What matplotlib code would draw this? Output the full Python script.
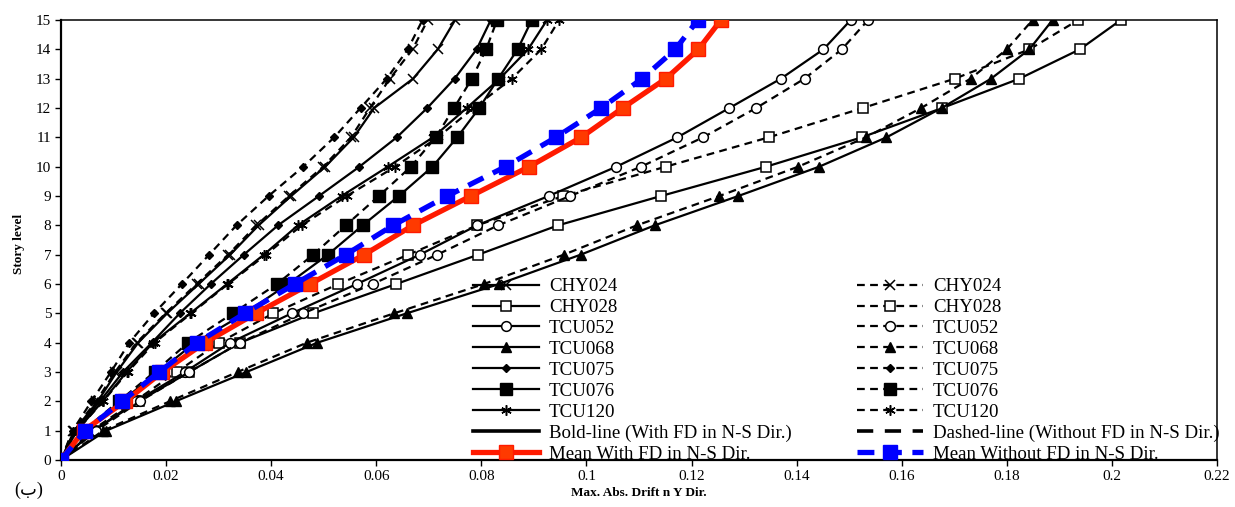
import matplotlib
matplotlib.use("Agg")
import matplotlib.pyplot as plt
from matplotlib.lines import Line2D

# ---------------- data ----------------
stories = list(range(16))

chy024_with = [0, 0.0025, 0.0070, 0.0106, 0.0147, 0.0202, 0.0262, 0.0322, 0.0376, 0.0438, 0.0503, 0.0557, 0.0596, 0.0670, 0.0717, 0.0750]
chy024_without = [0, 0.0023, 0.0067, 0.0103, 0.0144, 0.0199, 0.0258, 0.0318, 0.0372, 0.0434, 0.0499, 0.0552, 0.0588, 0.0626, 0.0669, 0.0698]

chy028_with = [0, 0.0062, 0.0148, 0.0244, 0.0341, 0.0480, 0.0638, 0.0794, 0.0946, 0.1142, 0.1342, 0.1524, 0.1677, 0.1824, 0.1939, 0.2017]
chy028_without = [0, 0.0058, 0.0140, 0.0220, 0.0301, 0.0404, 0.0528, 0.0661, 0.0792, 0.0956, 0.1151, 0.1347, 0.1526, 0.1701, 0.1843, 0.1936]

tcu052_with = [0, 0.0063, 0.0143, 0.0236, 0.0322, 0.0439, 0.0563, 0.0683, 0.0792, 0.0928, 0.1057, 0.1173, 0.1272, 0.1370, 0.1451, 0.1503]
tcu052_without = [0, 0.0067, 0.0150, 0.0244, 0.0341, 0.0461, 0.0593, 0.0716, 0.0832, 0.0969, 0.1104, 0.1222, 0.1323, 0.1415, 0.1486, 0.1536]

tcu068_with = [0, 0.0086, 0.0218, 0.0353, 0.0488, 0.0658, 0.0834, 0.0989, 0.1130, 0.1289, 0.1443, 0.1571, 0.1676, 0.1770, 0.1843, 0.1887]
tcu068_without = [0, 0.0080, 0.0207, 0.0336, 0.0468, 0.0634, 0.0805, 0.0957, 0.1096, 0.1253, 0.1403, 0.1532, 0.1637, 0.1731, 0.1800, 0.1849]

tcu075_with = [0, 0.0027, 0.0074, 0.0118, 0.0173, 0.0226, 0.0285, 0.0348, 0.0413, 0.0491, 0.0568, 0.0639, 0.0697, 0.0749, 0.0791, 0.0818]
tcu075_without = [0, 0.0022, 0.0058, 0.0095, 0.0130, 0.0177, 0.0230, 0.0282, 0.0334, 0.0395, 0.0461, 0.0520, 0.0570, 0.0620, 0.0660, 0.0688]

tcu076_with = [0, 0.0044, 0.0115, 0.0185, 0.0255, 0.0350, 0.0432, 0.0508, 0.0574, 0.0643, 0.0707, 0.0754, 0.0796, 0.0832, 0.0869, 0.0896]
tcu076_without = [0, 0.0042, 0.0110, 0.0178, 0.0242, 0.0327, 0.0411, 0.0480, 0.0542, 0.0605, 0.0666, 0.0713, 0.0748, 0.0782, 0.0809, 0.0830]

tcu120_with = [0, 0.0030, 0.0079, 0.0125, 0.0175, 0.0246, 0.0316, 0.0386, 0.0451, 0.0534, 0.0622, 0.0708, 0.0772, 0.0835, 0.0889, 0.0925]
tcu120_without = [0, 0.0030, 0.0080, 0.0127, 0.0178, 0.0248, 0.0318, 0.0390, 0.0458, 0.0544, 0.0636, 0.0717, 0.0785, 0.0858, 0.0914, 0.0948]

mean_with = [0, 0.0043, 0.0122, 0.0193, 0.0274, 0.0371, 0.0474, 0.0577, 0.0670, 0.0780, 0.0891, 0.0990, 0.1069, 0.1151, 0.1213, 0.1256]
mean_without = [0, 0.0046, 0.0116, 0.0187, 0.0259, 0.0350, 0.0445, 0.0542, 0.0632, 0.0735, 0.0846, 0.0942, 0.1028, 0.1106, 0.1169, 0.1212]

names = ["CHY024", "CHY028", "TCU052", "TCU068", "TCU075", "TCU076", "TCU120"]
with_series = [chy024_with, chy028_with, tcu052_with, tcu068_with, tcu075_with, tcu076_with, tcu120_with]
without_series = [chy024_without, chy028_without, tcu052_without, tcu068_without, tcu075_without, tcu076_without, tcu120_without]

x_ticks = [0, 0.02, 0.04, 0.06, 0.08, 0.1, 0.12, 0.14, 0.16, 0.18, 0.2, 0.22]
x_tick_labels = ["0", "0.02", "0.04", "0.06", "0.08", "0.1", "0.12", "0.14", "0.16", "0.18", "0.2", "0.22"]

# ---------------- style ----------------
SERIF = "Liberation Serif"
plt.rcParams["font.family"] = [SERIF, "DejaVu Sans"]

marker_styles = [
    dict(marker="x", ms=6.5, mfc="black", mec="black", mew=1.1),
    dict(marker="s", ms=7, mfc="white", mec="black", mew=1.1),
    dict(marker="o", ms=7, mfc="white", mec="black", mew=1.1),
    dict(marker="^", ms=7.5, mfc="black", mec="black", mew=1.0),
    dict(marker="D", ms=4.5, mfc="black", mec="black", mew=1.0),
    dict(marker="s", ms=8, mfc="black", mec="black", mew=1.0),
    dict(marker=(6, 2, 0), ms=7.5, mfc="black", mec="black", mew=1.1),
]

fig = plt.figure(figsize=(12.35, 5.07), dpi=100)
ax = fig.add_axes([61 / 1235, 47 / 507, (1217 - 61) / 1235, (460 - 20) / 507])

LW = 1.6
DASH = (3.5, 2.4)
RED_LINE = "#FF1A00"
RED_FILL = "#FF3A00"
BLUE = "#0000FF"

for name, s_with, s_wo, ms in zip(names, with_series, without_series, marker_styles):
    ax.plot(s_with, stories, color="black", lw=LW, ls="-", zorder=2, **ms)
    ax.plot(s_wo, stories, color="black", lw=LW, ls=(0, DASH), zorder=2, **ms)

ax.plot(mean_with, stories, color=RED_LINE, lw=3.8, marker="s", ms=9.5,
        mfc=RED_FILL, mec=RED_LINE, mew=1.0, zorder=4)
ax.plot(mean_without, stories, color=BLUE, lw=3.8, ls=(0, (3.2, 2.0)), marker="s",
        ms=9.5, mfc=BLUE, mec=BLUE, mew=1.0, zorder=5)

ax.set_xlim(0, 0.22)
ax.set_ylim(0, 15)
ax.set_xticks(x_ticks)
ax.set_xticklabels(x_tick_labels)
ax.set_yticks(stories)
ax.tick_params(axis="both", direction="out", length=4, width=1, labelsize=11, pad=3)
for lab in ax.get_xticklabels() + ax.get_yticklabels():
    lab.set_fontfamily(SERIF)

for side in ["left", "bottom"]:
    ax.spines[side].set_linewidth(1.6)
for side in ["top", "right"]:
    ax.spines[side].set_linewidth(1.1)

ax.set_xlabel("Max. Abs. Drift n Y Dir.", fontsize=9.5, fontweight="bold", fontfamily=SERIF, labelpad=3)
ax.set_ylabel("Story level", fontsize=9.5, fontweight="bold", fontfamily=SERIF, labelpad=8)
ax.yaxis.label.set_y(0.49)

fig.text(14 / 1235, 1 - 490 / 507, "(ب)", fontsize=13, family=[SERIF, "DejaVu Sans"], ha="left", va="center")

# ---------------- legends ----------------
def mk(ls, ms):
    return Line2D([], [], color="black", lw=LW, ls=ls, **ms)

left_handles = [mk("-", m) for m in marker_styles]
left_handles.append(Line2D([], [], color="black", lw=2.6, ls="-"))
left_handles.append(Line2D([], [], color=RED_LINE, lw=3.8, marker="s", ms=9.5, mfc=RED_FILL, mec=RED_LINE))
left_labels = names + ["Bold-line (With FD in N-S Dir.)", "Mean With FD in N-S Dir."]

right_handles = [mk((0, DASH), m) for m in marker_styles]
right_handles.append(Line2D([], [], color="black", lw=2.6, ls=(0, (4.5, 3.2))))
right_handles.append(Line2D([], [], color=BLUE, lw=3.8, ls=(0, (3.2, 2.0)), marker="s", ms=9.5,
                            mfc=BLUE, mec=BLUE))
right_labels = names + ["Dashed-line (Without FD in N-S Dir.)", "Mean Without FD in N-S Dir."]

leg_kw = dict(frameon=False, handlelength=3.5, handletextpad=0.53, labelspacing=0.195,
              numpoints=1, borderpad=0, borderaxespad=0, prop={"family": SERIF, "size": 13.6})
leg1 = fig.legend(left_handles, left_labels, loc="upper left",
                  bbox_to_anchor=(473 / 1235, 1 - 278 / 507), **leg_kw)
leg2 = fig.legend(right_handles, right_labels, loc="upper left",
                  bbox_to_anchor=(857 / 1235, 1 - 278 / 507), **leg_kw)

fig.savefig("out.png", dpi=100)
